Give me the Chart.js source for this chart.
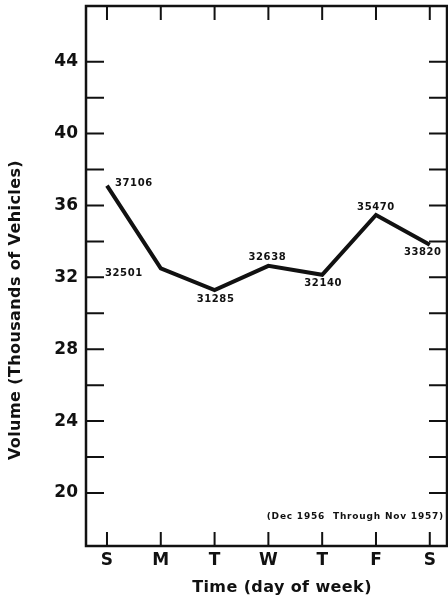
<!DOCTYPE html>
<html>
<head>
<meta charset="utf-8">
<script src="https://cdn.jsdelivr.net/npm/chart.js@4.4.0/dist/chart.umd.min.js"></script>
<style>
  html,body{margin:0;padding:0;background:#fff}
  #c{display:block}
</style>
</head>
<body>
<canvas id="c" width="448" height="603"></canvas>
<script>
const days = ['S','M','T','W','T','F','S']
const volumes = [37106, 32501, 31285, 32638, 32140, 35470, 33820]
const yTickValues = [20,22,24,26,28,30,32,34,36,38,40,42,44]
const yLabelStep = 4
const note = '(Dec 1956  Through Nov 1957)'
const xTitle = 'Time (day of week)'
const yTitle = 'Volume (Thousands of Vehicles)'

// value label offsets from each point: [dx, dy, align]
const labelPlacement = [[8,-2,'left'],[-18,5,'right'],[1,9,'center'],[-1,-8,'center'],[1,9,'center'],[0,-8,'center'],[-7,8,'center']]

const INK = '#111'
const FONT = 'DejaVu Sans'

// box frame with inward tick marks on all four sides
const framePlugin = {
  id: 'frame',
  beforeDatasetsDraw(chart){
    const {ctx, chartArea:a, scales:{x, y}} = chart
    ctx.save()
    ctx.strokeStyle = INK
    ctx.lineWidth = 2
    yTickValues.forEach(v => {
      const py = y.getPixelForValue(v)
      ctx.beginPath()
      ctx.moveTo(a.left, py); ctx.lineTo(a.left + 18, py)
      ctx.moveTo(a.right, py); ctx.lineTo(a.right - 18, py)
      ctx.stroke()
    })
    days.forEach((d, i) => {
      const px = x.getPixelForValue(i)
      ctx.beginPath()
      ctx.moveTo(px, a.bottom); ctx.lineTo(px, a.bottom - 14)
      ctx.moveTo(px, a.top); ctx.lineTo(px, a.top + 14)
      ctx.stroke()
    })
    ctx.lineWidth = 2.5
    ctx.strokeRect(a.left, a.top, a.right - a.left, a.bottom - a.top)
    ctx.restore()
  },
  afterDraw(chart){
    const {ctx, chartArea:a, scales:{x, y}} = chart
    ctx.save()
    ctx.fillStyle = INK
    // value labels
    ctx.font = `bold 10px "${FONT}"`
    ctx.letterSpacing = '0.6px'
    ctx.textBaseline = 'middle'
    volumes.forEach((v, i) => {
      const [dx, dy, align] = labelPlacement[i]
      ctx.textAlign = align
      ctx.fillText(String(v), x.getPixelForValue(i) + dx, y.getPixelForValue(v / 1000) + dy)
    })
    // period note
    ctx.font = `bold 9px "${FONT}"`
    ctx.letterSpacing = '0.8px'
    ctx.textAlign = 'right'
    ctx.fillText(note, a.right - 3, a.bottom - 29)
    // axis titles
    ctx.font = `bold 16px "${FONT}"`
    ctx.letterSpacing = '0.4px'
    ctx.textAlign = 'center'
    ctx.fillText(xTitle, a.left + 196, a.bottom + 42)
    ctx.translate(a.left - 70, a.top + 304)
    ctx.rotate(-Math.PI / 2)
    ctx.fillText(yTitle, 0, 0)
    ctx.restore()
  }
}

new Chart(document.getElementById('c'), {
  type: 'line',
  data: {
    datasets: [{
      data: volumes.map((v, i) => ({x: i, y: v / 1000})),
      borderColor: INK,
      borderWidth: 4,
      borderJoinStyle: 'miter',
      pointRadius: 0,
      tension: 0,
      fill: false
    }]
  },
  options: {
    responsive: false,
    animation: false,
    layout: {padding: {top: 6, right: 1, left: 0, bottom: 0}},
    plugins: {legend: {display: false}, tooltip: {enabled: false}},
    scales: {
      x: {
        type: 'linear',
        min: -0.39,
        max: 6.32,
        grid: {display: false, drawTicks: false},
        border: {display: false},
        afterBuildTicks: s => { s.ticks = days.map((d, i) => ({value: i})) },
        afterFit: s => { s.height = 57; s.paddingLeft = 0; s.paddingRight = 0 },
        ticks: {
          color: INK,
          padding: 4,
          autoSkip: false,
          maxRotation: 0,
          font: {family: FONT, size: 17, weight: 'bold'},
          callback: v => days[v]
        }
      },
      y: {
        min: 17.05,
        max: 47.1,
        grid: {display: false, drawTicks: false},
        border: {display: false},
        afterBuildTicks: s => { s.ticks = yTickValues.map(v => ({value: v})) },
        afterFit: s => { s.width = 86; s.paddingTop = 0; s.paddingBottom = 0 },
        ticks: {
          color: INK,
          padding: 8,
          autoSkip: false,
          font: {family: FONT, size: 17, weight: 'bold'},
          callback: v => v % yLabelStep === 0 ? String(v) : ''
        }
      }
    }
  },
  plugins: [framePlugin]
})
</script>
</body>
</html>
